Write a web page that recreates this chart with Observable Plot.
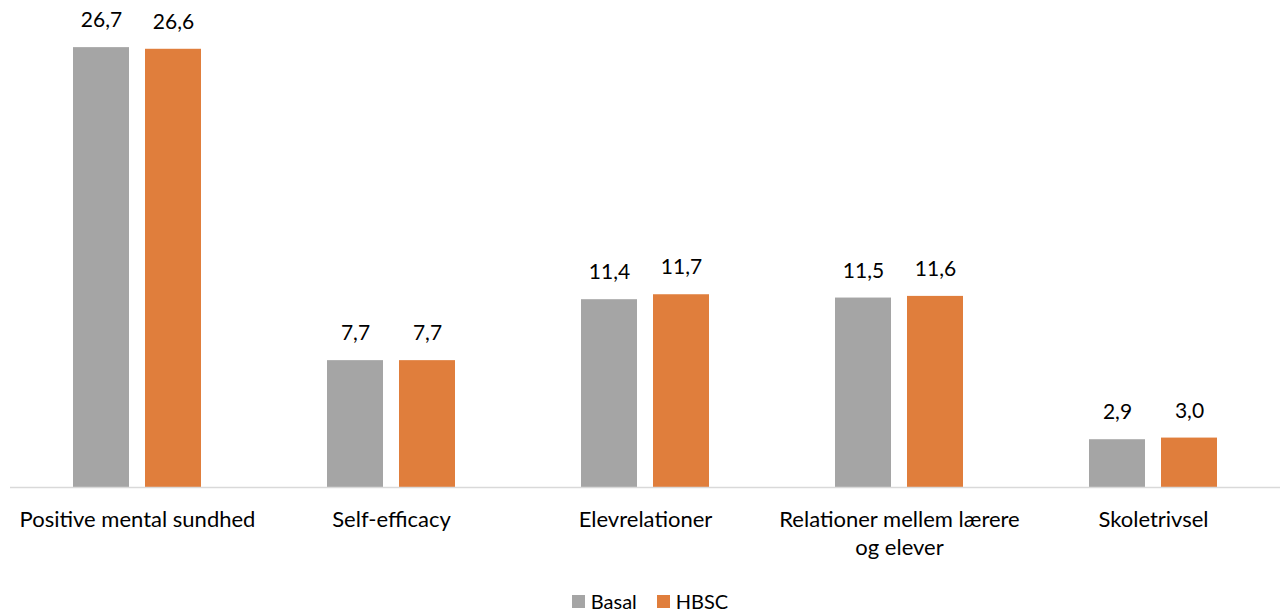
<!DOCTYPE html>
<html>
<head>
<meta charset="utf-8">
<script src="https://cdn.jsdelivr.net/npm/d3@7"></script>
<script src="https://cdn.jsdelivr.net/npm/@observablehq/plot@0.6"></script>
<style>
  html, body { margin: 0; padding: 0; background: #fff; }
  #chart { width: 1282px; }
  .legend { display: flex; justify-content: center; align-items: center; font-family: Lato, sans-serif; font-size: 20px; color: #000; height: 52px; padding-left: 18px; box-sizing: border-box; }
  .legend .item { display: flex; align-items: center; margin: 0 10px; }
  .legend .sw { width: 13px; height: 13px; margin-right: 6px; display: inline-block; }
</style>
</head>
<body>
<div id="chart"></div>
<script>
const categories = ["Positive mental sundhed", "Self-efficacy", "Elevrelationer", "Relationer mellem lærere\nog elever", "Skoletrivsel"];
const series = ["Basal", "HBSC"];
const basal = [26.7, 7.7, 11.4, 11.5, 2.9];
const hbsc = [26.6, 7.7, 11.7, 11.6, 3.0];
const colors = ["#A5A5A5", "#E07E3C"];

const data = categories.flatMap((c, i) => [
  {category: c, series: "Basal", value: basal[i]},
  {category: c, series: "HBSC", value: hbsc[i]}
]);

const fmt = v => v.toFixed(1).replace(".", ",");

const plot = Plot.plot({
  width: 1282,
  height: 575,
  marginLeft: 10,
  marginRight: 2,
  marginTop: 1,
  marginBottom: 88,
  style: {fontFamily: "Lato, sans-serif", fontSize: "21px", color: "#000", background: "#fff"},
  fx: {domain: categories, padding: 0, label: null},
  x: {domain: series, paddingInner: 0.22, paddingOuter: 0.85, axis: null},
  y: {domain: [0, 29.5], axis: null},
  color: {domain: series, range: colors},
  marks: [
    Plot.barY(data, {fx: "category", x: "series", y: "value", fill: "series"}),
    Plot.text(data, {fx: "category", x: "series", y: "value", text: d => fmt(d.value), dy: -27, fontSize: 21, fill: "#000"}),
    Plot.ruleY([0], {stroke: "#d9d9d9", strokeWidth: 1.5}),
    Plot.axisFx({anchor: "bottom", tickSize: 0, tickPadding: 20, lineHeight: 1.27, fontSize: 22, label: null})
  ]
});
document.getElementById("chart").appendChild(plot);

const legend = document.createElement("div");
legend.className = "legend";
series.forEach((s, i) => {
  const item = document.createElement("span");
  item.className = "item";
  const sw = document.createElement("span");
  sw.className = "sw";
  sw.style.background = colors[i];
  item.appendChild(sw);
  item.appendChild(document.createTextNode(s));
  legend.appendChild(item);
});
document.getElementById("chart").appendChild(legend);
</script>
</body>
</html>
